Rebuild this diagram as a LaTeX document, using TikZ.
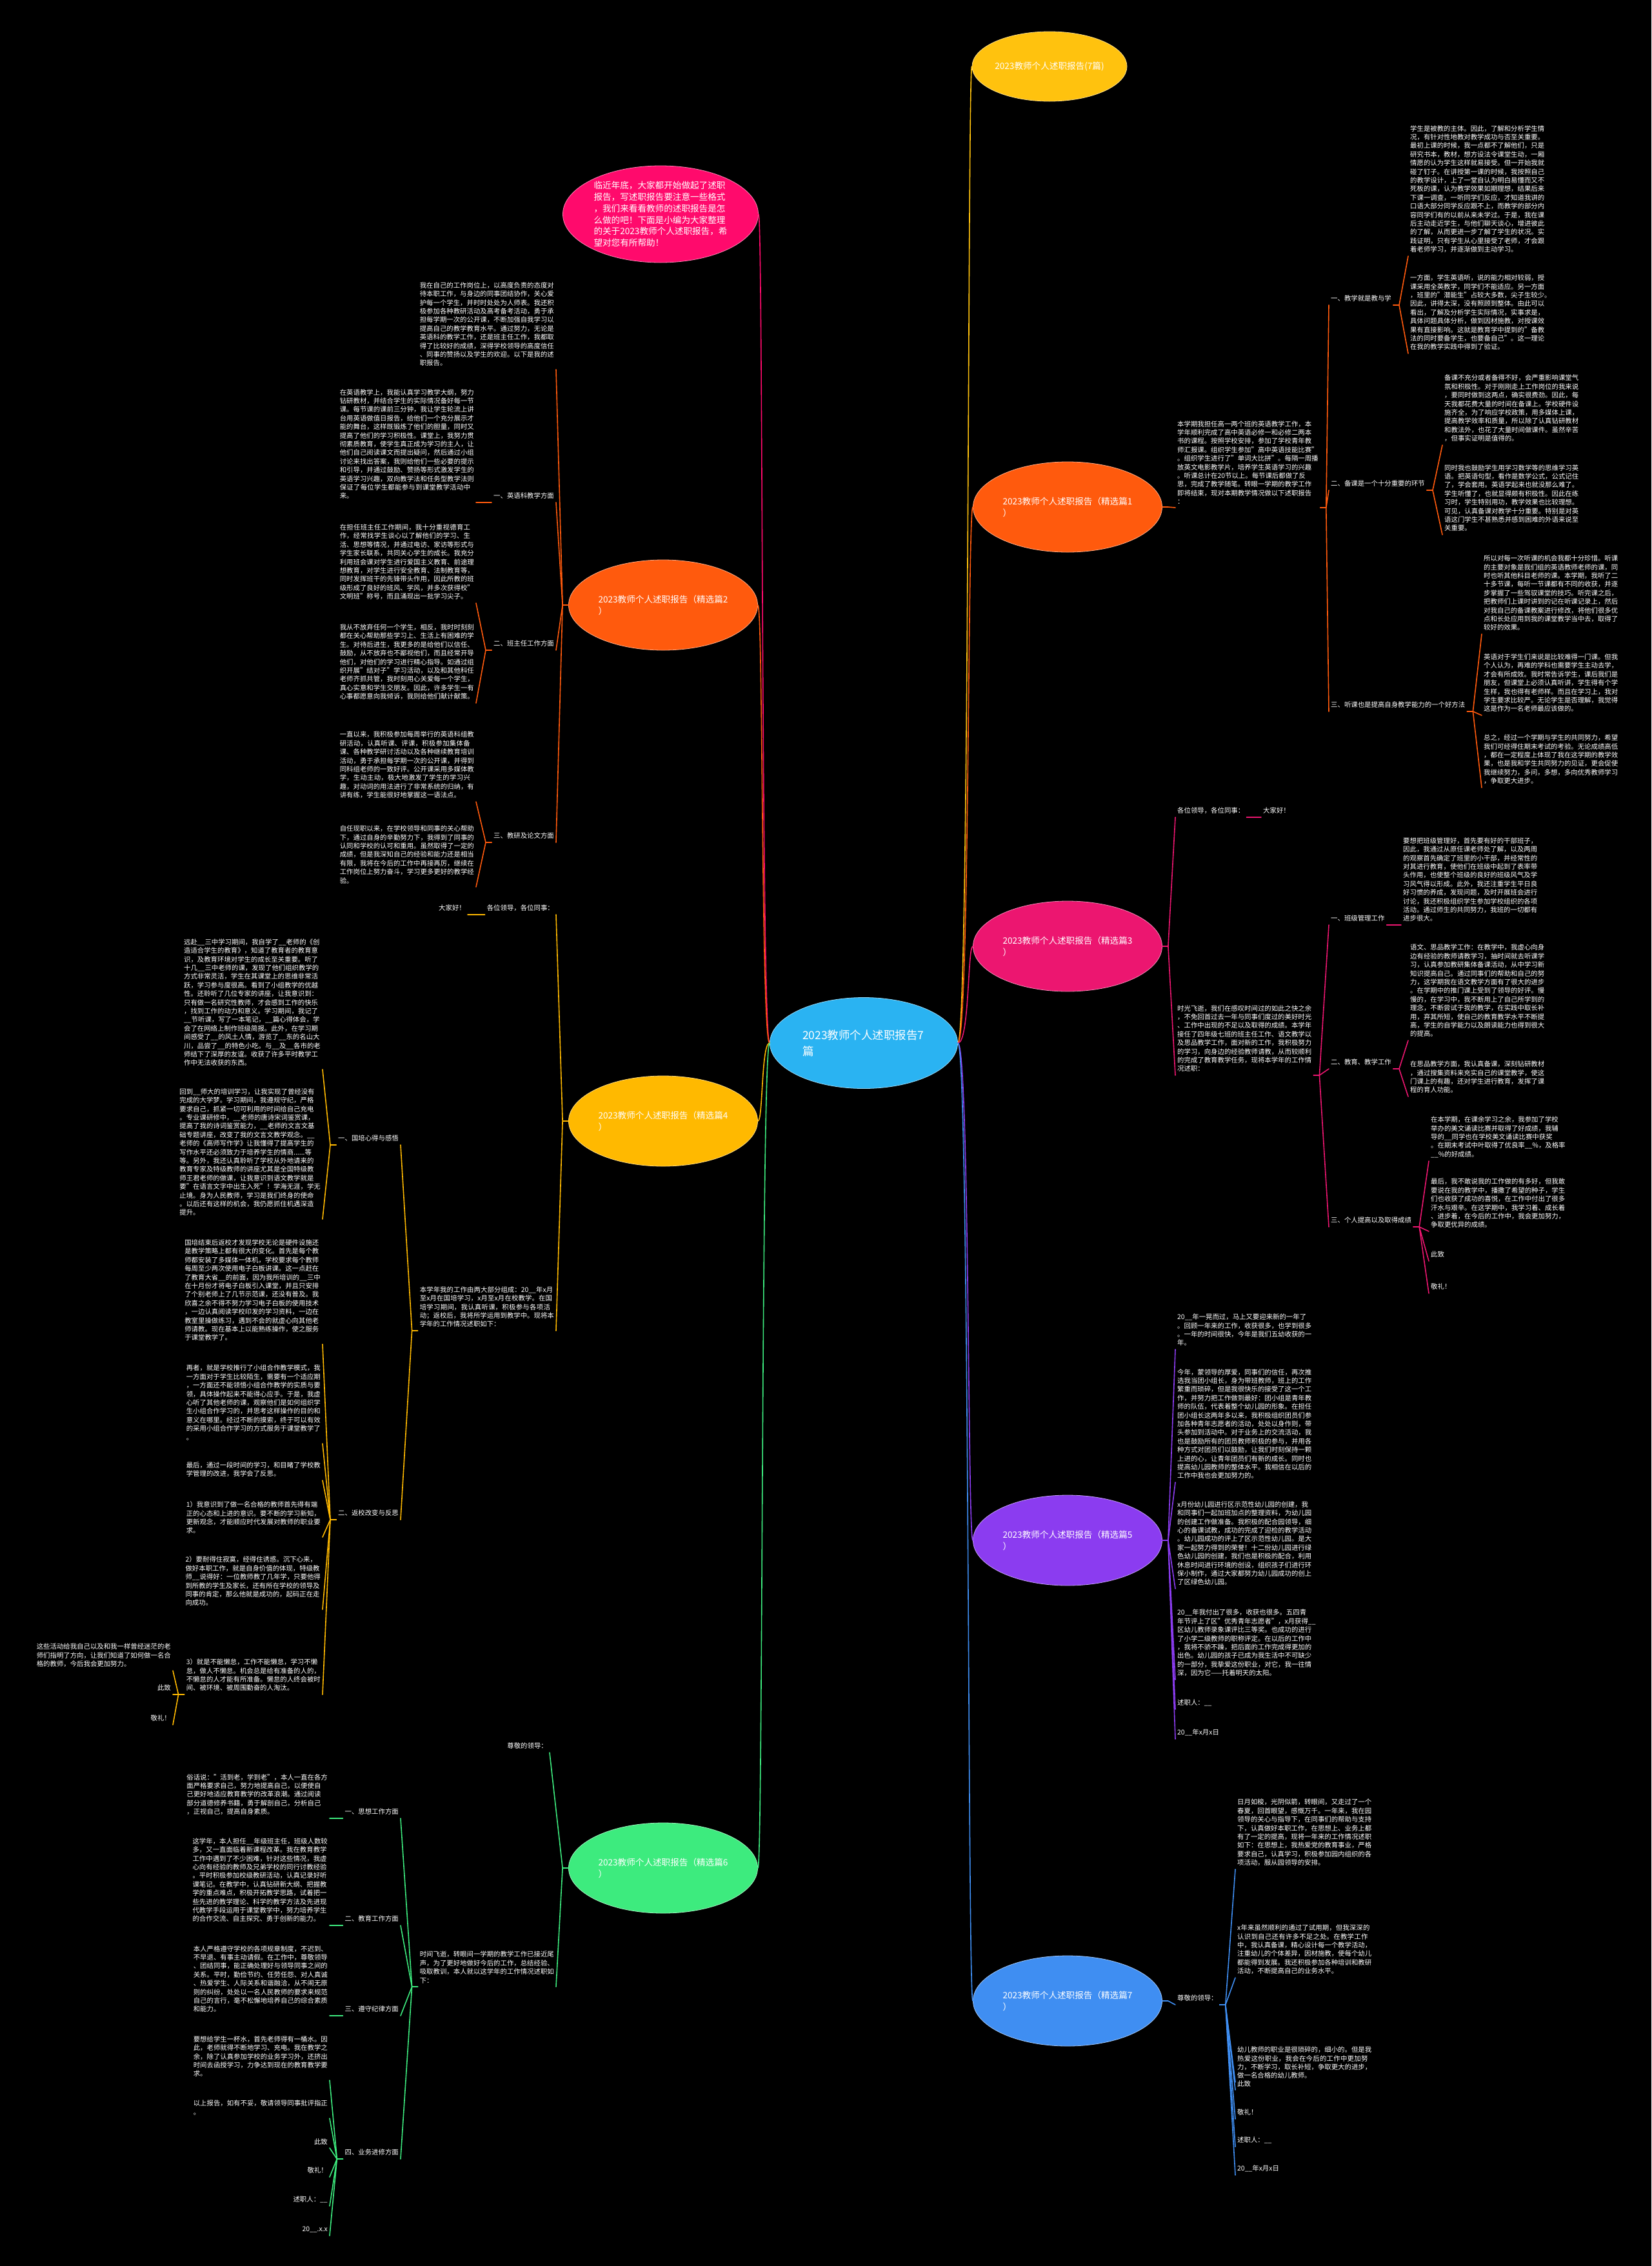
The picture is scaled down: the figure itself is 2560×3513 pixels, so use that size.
\documentclass[tikz,border=0pt]{standalone}
\usepackage{fontspec}
\setmainfont{Noto Sans CJK SC}
\XeTeXlinebreaklocale "zh"
\XeTeXlinebreakskip = 0pt plus 1pt
\usetikzlibrary{shapes.geometric}
\definecolor{cRoot}{HTML}{2AB3F2}
\definecolor{cY}{HTML}{FFC20E}
\definecolor{cO}{HTML}{FF5A0D}
\definecolor{cP}{HTML}{EC1670}
\definecolor{cV}{HTML}{8B3CF0}
\definecolor{cB}{HTML}{3F8EF2}
\definecolor{cPk}{HTML}{FF0A6C}
\definecolor{cYL}{HTML}{FFB900}
\definecolor{cG}{HTML}{3DEB7E}
\tikzset{
  txt/.style={text=white, font=\fontsize{10.4}{13.4}\selectfont, align=left, inner xsep=3pt, inner ysep=5pt},
  ptxt/.style={txt, text width=208pt},
  ln/.style={line width=1.6pt, line cap=round, line join=round},
  bnode/.style={ellipse, minimum width=293pt, minimum height=140pt, align=left,
    font=\fontsize{13.6}{17.8}\selectfont, text=white, inner sep=0pt, line width=0.8pt},
}
\newcommand\myRC[3]{\draw[ln,draw=#1] (#2) -- ++(9,0) -- (#3);}
\newcommand\myLC[3]{\draw[ln,draw=#1] (#2) -- ++(-9,0) -- (#3);}
\begin{document}
\begin{tikzpicture}[x=1pt,y=-1pt]
\fill[black] (0,0) rectangle (2560,3513);
\useasboundingbox (0,0) rectangle (2560,3513);

% ---------- root ----------
\node[ellipse, fill=cRoot, draw=white!50!cRoot, line width=0.8pt, minimum width=291pt, minimum height=141pt,
  text width=190pt, align=left, inner sep=0pt, text=white, font=\fontsize{17.5}{25}\selectfont] (root) at (1339,1617) {2023教师个人述职报告7\\篇};

% ---------- branch ellipses ----------
\node[ellipse, fill=cY, draw=white!50!cY, line width=0.8pt, minimum width=240pt, minimum height=108pt, inner sep=0pt,
  text=white, font=\fontsize{13.6}{17.8}\selectfont] (bT) at (1627,103) {2023教师个人述职报告(7篇)};
\node[bnode, fill=cO, draw=white!50!cO] (b1) at (1655,786) {2023教师个人述职报告（精选篇1\\）};
\node[bnode, fill=cP, draw=white!50!cP] (b3) at (1655,1467) {2023教师个人述职报告（精选篇3\\）};
\node[bnode, fill=cV, draw=white!50!cV] (b5) at (1655,2388) {2023教师个人述职报告（精选篇5\\）};
\node[bnode, fill=cB, draw=white!50!cB] (b7) at (1655,3102) {2023教师个人述职报告（精选篇7\\）};
\node[bnode, fill=cPk, draw=white!50!cPk, minimum width=303pt, minimum height=150pt] (bI) at (1024,332) {临近年底，大家都开始做起了述职\\报告，写述职报告要注意一些格式\\，我们来看看教师的述职报告是怎\\么做的吧！下面是小编为大家整理\\的关于2023教师个人述职报告，希\\望对您有所帮助！};
\node[bnode, fill=cO, draw=white!50!cO] (b2) at (1028,938) {2023教师个人述职报告（精选篇2\\）};
\node[bnode, fill=cYL, draw=white!50!cYL] (b4) at (1028,1738) {2023教师个人述职报告（精选篇4\\）};
\node[bnode, fill=cG, draw=white!50!cG] (b6) at (1028,2896) {2023教师个人述职报告（精选篇6\\）};

% root connectors
\draw[ln,draw=cY] (root.east) .. controls (1503,1617) and (1500,103) .. (bT.west);
\draw[ln,draw=cO] (root.east) .. controls (1503,1617) and (1500,786) .. (b1.west);
\draw[ln,draw=cP] (root.east) .. controls (1503,1617) and (1500,1467) .. (b3.west);
\draw[ln,draw=cV] (root.east) .. controls (1503,1617) and (1500,2388) .. (b5.west);
\draw[ln,draw=cB] (root.east) .. controls (1503,1617) and (1500,3102) .. (b7.west);
\draw[ln,draw=cPk] (root.west) .. controls (1180,1617) and (1183,332) .. (bI.east);
\draw[ln,draw=cO] (root.west) .. controls (1180,1617) and (1183,938) .. (b2.east);
\draw[ln,draw=cYL] (root.west) .. controls (1180,1617) and (1183,1738) .. (b4.east);
\draw[ln,draw=cG] (root.west) .. controls (1180,1617) and (1183,2896) .. (b6.east);

% ---------- branch 1 ----------
\node[txt,anchor=south west] (b1in) at (1822,787) {本学期我担任高一两个班的英语教学工作，本\\学年顺利完成了高中英语必修一和必修二两本\\书的课程。按照学校安排，参加了学校青年教\\师汇报课。组织学生参加"高中英语技能比赛"\\。组织学生进行了"单词大比拼"。每隔一周播\\放英文电影教学片，培养学生英语学习的兴趣\\。听课总计在20节以上。每节课后都做了反\\思，完成了教学随笔。转眼一学期的教学工作\\即将结束，现对本期教学情况做以下述职报告\\：};
\node[txt,anchor=south west] (b1L1) at (2060,473) {一、教学就是教与学};
\node[txt,anchor=south west] (b1L2) at (2060,760) {二、备课是一个十分重要的环节};
\node[txt,anchor=south west] (b1L3) at (2060,1103) {三、听课也是提高自身教学能力的一个好方法};
\node[txt,anchor=south west] (b1p1) at (2183,397) {学生是被教的主体。因此，了解和分析学生情\\况，有针对性地教对教学成功与否至关重要。\\最初上课的时候，我一点都不了解他们，只是\\研究书本，教材，想方设法令课堂生动，一厢\\情愿的认为学生这样就易接受。但一开始我就\\碰了钉子。在讲授第一课的时候，我按照自己\\的教学设计，上了一堂自认为明白易懂而又不\\死板的课，认为教学效果如期理想，结果后来\\下课一调查，一听同学们反应，才知道我讲的\\口语大部分同学反应跟不上，而教学的部分内\\容同学们有的以前从来未学过。于是，我在课\\后主动走近学生，与他们聊天谈心，增进彼此\\的了解，从而更进一步了解了学生的状况。实\\践证明，只有学生从心里接受了老师，才会跟\\着老师学习，并逐渐做到主动学习。};
\node[txt,anchor=south west] (b1p2) at (2183,548) {一方面，学生英语听，说的能力相对较弱，授\\课采用全英教学，同学们不能适应。另一方面\\，班里的"潜能生"占较大多数，尖子生较少。\\因此，讲得太深，没有照顾到整体。由此可以\\看出，了解及分析学生实际情况，实事求是，\\具体问题具体分析，做到因材施教，对授课效\\果有直接影响。这就是教育学中提到的"备教\\法的同时要备学生，也要备自己"。这一理论\\在我的教学实践中得到了验证。};
\node[txt,anchor=south west] (b1p3) at (2236,690) {备课不充分或者备得不好，会严重影响课堂气\\氛和积极性。对于刚刚走上工作岗位的我来说\\，要同时做到这两点，确实很费劲。因此，每\\天我都花费大量的时间在备课上。学校硬件设\\施齐全，为了响应学校政策，用多媒体上课，\\提高教学效率和质量，所以除了认真钻研教材\\和教法外，也花了大量时间做课件。虽然辛苦\\，但事实证明是值得的。};
\node[txt,anchor=south west] (b1p4) at (2236,829) {同时我也鼓励学生用学习数学等的思维学习英\\语。把英语句型，看作是数学公式，公式记住\\了，学会套用。英语学起来也就没那么难了。\\学生听懂了，也就显得颇有积极性。因此在练\\习时，学生特别用功，教学效果也比较理想。\\可见，认真备课对教学十分重要。特别是对英\\语这门学生不甚熟悉并感到困难的外语来说至\\关重要。};
\node[txt,anchor=south west] (b1p5) at (2297,983) {所以对每一次听课的机会我都十分珍惜。听课\\的主要对象是我们组的英语教师老师的课，同\\时也听其他科目老师的课。本学期，我听了二\\十多节课，每听一节课都有不同的收获，并逐\\步掌握了一些驾驭课堂的技巧。听完课之后，\\把教师们上课时讲到的记在听课记录上，然后\\对我自己的备课教案进行修改，将他们很多优\\点和长处应用到我的课堂教学当中去，取得了\\较好的效果。};
\node[txt,anchor=south west] (b1p6) at (2297,1109) {英语对于学生们来说是比较难得一门课。但我\\个人认为，再难的学科也需要学生主动去学，\\才会有所成效。我时常告诉学生，课后我们是\\朋友，但课堂上必须认真听讲，学生得有个学\\生样，我也得有老师样。而且在学习上，我对\\学生要求比较严。无论学生是否理解，我觉得\\这是作为一名老师最应该做的。};
\node[txt,anchor=south west] (b1p7) at (2297,1221) {总之，经过一个学期与学生的共同努力，希望\\我们可经得住期末考试的考验。无论成绩高低\\，都在一定程度上体现了我在这学期的教学效\\果，也是我和学生共同努力的见证，更会促使\\我继续努力，多问，多想，多向优秀教师学习\\，争取更大进步。};
\myRC{cO}{b1.east}{b1in.south west}
\myRC{cO}{b1in.south east}{b1L1.south west}
\myRC{cO}{b1in.south east}{b1L2.south west}
\myRC{cO}{b1in.south east}{b1L3.south west}
\myRC{cO}{b1L1.south east}{b1p1.south west}
\myRC{cO}{b1L1.south east}{b1p2.south west}
\myRC{cO}{b1L2.south east}{b1p3.south west}
\myRC{cO}{b1L2.south east}{b1p4.south west}
\myRC{cO}{b1L3.south east}{b1p5.south west}
\myRC{cO}{b1L3.south east}{b1p6.south west}
\myRC{cO}{b1L3.south east}{b1p7.south west}

% ---------- branch 3 ----------
\node[txt,anchor=south west] (b3g) at (1822,1267) {各位领导，各位同事：};
\node[txt,anchor=south west] (b3g2) at (1955,1267) {大家好！};
\node[txt,anchor=south west] (b3in) at (1822,1667) {时光飞逝，我们在感叹时间过的如此之快之余\\，不免回首过去一年与同事们度过的美好时光\\、工作中出现的不足以及取得的成绩。本学年\\接任了四年级七班的班主任工作、语文教学以\\及思品教学工作，面对新的工作，我积极努力\\的学习，向身边的经验教师请教，从而较顺利\\的完成了教育教学任务，现将本学年的工作情\\况述职：};
\node[txt,anchor=south west] (b3L1) at (2060,1434) {一、班级管理工作};
\node[txt,anchor=south west] (b3L2) at (2060,1657) {二、教育、教学工作};
\node[txt,anchor=south west] (b3L3) at (2060,1902) {三、个人提高以及取得成绩};
\node[txt,anchor=south west] (b3p1) at (2172,1434) {要想把班级管理好，首先要有好的干部班子，\\因此，我通过从原任课老师处了解，以及两周\\的观察首先确定了班里的小干部，并经常性的\\对其进行教育，使他们在班级中起到了表率带\\头作用，也使整个班级的良好的班级风气及学\\习风气得以形成。此外，我还注重学生平日良\\好习惯的养成，发现问题，及时开展班会进行\\讨论，我还积极组织学生参加学校组织的各项\\活动。通过师生的共同努力，我班的一切都有\\进步很大。};
\node[txt,anchor=south west] (b3p2) at (2183,1613) {语文、思品教学工作：在教学中，我虚心向身\\边有经验的教师请教学习，抽时间就去听课学\\习，认真参加教研集体备课活动，从中学习新\\知识提高自己。通过同事们的帮助和自己的努\\力，这学期我在语文教学方面有了很大的进步\\。在学期中的推门课上受到了领导的好评。慢\\慢的，在学习中，我不断用上了自己所学到的\\理念，不断尝试于我的教学，在实践中取长补\\用，弃其所短，使自己的教育教学水平不断提\\高，学生的自学能力以及朗读能力也得到很大\\的提高。};
\node[txt,anchor=south west] (b3p3) at (2183,1700) {在思品教学方面，我认真备课，深刻钻研教材\\，通过搜集资料来充实自己的课堂教学，使这\\门课上的有趣，还对学生进行教育，发挥了课\\程的育人功能。};
\node[txt,anchor=south west] (b3p4) at (2215,1800) {在本学期，在课余学习之余，我参加了学校\\举办的美文诵读比赛并取得了好成绩，我辅\\导的\_\_同学也在学校美文诵读比赛中获奖\\。在期末考试中叶取得了优良率\_\_\%，及格率\\\_\_\%的好成绩。};
\node[txt,anchor=south west] (b3p5) at (2215,1909) {最后，我不敢说我的工作做的有多好，但我敢\\要说在我的教学中，播撒了希望的种子，学生\\们也收获了成功的喜悦，在工作中付出了很多\\汗水与艰辛。在这学期中，我学习着、成长着\\、进步着，在今后的工作中，我会更加努力，\\争取更优异的成绩。};
\node[txt,anchor=south west] (b3p6) at (2215,1955) {此致};
\node[txt,anchor=south west] (b3p7) at (2215,2005) {敬礼！};
\myRC{cP}{b3.east}{b3g.south west}
\myRC{cP}{b3.east}{b3in.south west}
\draw[ln,draw=cP] (b3g.south east) -- (b3g2.south west);
\myRC{cP}{b3in.south east}{b3L1.south west}
\myRC{cP}{b3in.south east}{b3L2.south west}
\myRC{cP}{b3in.south east}{b3L3.south west}
\draw[ln,draw=cP] (b3L1.south east) -- (b3p1.south west);
\myRC{cP}{b3L2.south east}{b3p2.south west}
\myRC{cP}{b3L2.south east}{b3p3.south west}
\myRC{cP}{b3L3.south east}{b3p4.south west}
\myRC{cP}{b3L3.south east}{b3p5.south west}
\myRC{cP}{b3L3.south east}{b3p6.south west}
\myRC{cP}{b3L3.south east}{b3p7.south west}

% ---------- branch 5 ----------
\node[txt,anchor=south west] (b5p1) at (1822,2092) {20\_\_年一晃而过，马上又要迎来新的一年了\\。回顾一年来的工作，收获很多，也学到很多\\。一年的时间很快，今年是我们五幼收获的一\\年。};
\node[txt,anchor=south west] (b5p2) at (1822,2298) {今年，蒙领导的厚爱，同事们的信任，再次推\\选我当团小组长，身为带班教师，班上的工作\\繁重而琐碎，但是我很快乐的接受了这一个工\\作，并努力把工作做到最好：团小组是青年教\\师的队伍，代表着整个幼儿园的形象。在担任\\团小组长这两年多以来，我积极组织团员们参\\加各种青年志愿者的活动，处处以身作则，带\\头参加到活动中。对于业务上的交流活动，我\\也是鼓励所有的团员教师积极的参与，并用各\\种方式对团员们以鼓励，让我们时刻保持一颗\\上进的心，让青年团员们有新的成长。同时也\\提高幼儿园教师的整体水平。我相信在以后的\\工作中我也会更加努力的。};
\node[txt,anchor=south west] (b5p3) at (1822,2463) {x月份幼儿园进行区示范性幼儿园的创建，我\\和同事们一起加班加点的整理资料，为幼儿园\\的创建工作做准备。我积极的配合园领导，细\\心的备课试教，成功的完成了迎检的教学活动\\。幼儿园成功的评上了区示范性幼儿园。是大\\家一起努力得到的荣誉！十二份幼儿园进行绿\\色幼儿园的创建，我们也是积极的配合，利用\\休息时间进行环境的创设，组织孩子们进行环\\保小制作，通过大家都努力幼儿园成功的创上\\了区绿色幼儿园。};
\node[txt,anchor=south west] (b5p4) at (1822,2604) {20\_\_年我付出了很多，收获也很多。五四青\\年节评上了区"优秀青年志愿者"，x月获得\_\_\\区幼儿教师录象课评比三等奖。也成功的进行\\了小学二级教师的职称评定。在以后的工作中\\，我将不骄不躁，把后面的工作完成得更加的\\出色。幼儿园的孩子已成为我生活中不可缺少\\的一部分，我挚爱这份职业，对它，我一往情\\深，因为它——托着明天的太阳。};
\node[txt,anchor=south west] (b5p5) at (1822,2650) {述职人：\_\_};
\node[txt,anchor=south west] (b5p6) at (1822,2696) {20\_\_年x月x日};
\foreach \k in {1,...,6}{ \myRC{cV}{b5.east}{b5p\k.south west} }

% ---------- branch 7 ----------
\node[txt,anchor=south west] (b7g) at (1822,3108) {尊敬的领导：};
\node[ptxt,anchor=south west] (b7p1) at (1915,2898) {日月如梭，光阴似箭，转眼间，又走过了一个春夏，回首眼望，感慨万千。一年来，我在园领导的关心与指导下，在同事们的帮助与支持下，认真做好本职工作，在思想上、业务上都有了一定的提高，现将一年来的工作情况述职如下：在思想上，我热爱党的教育事业，严格要求自己，认真学习，积极参加园内组织的各项活动，服从园领导的安排。};
\node[ptxt,anchor=south west] (b7p2) at (1915,3066) {x年来虽然顺利的通过了试用期，但我深深的认识到自己还有许多不足之处。在教学工作中，我认真备课，精心设计每一个教学活动，注重幼儿的个体差异，因材施教，使每个幼儿都能得到发展。我还积极参加各种培训和教研活动，不断提高自己的业务水平。};
\node[ptxt,anchor=south west] (b7p3) at (1915,3228) {幼儿教师的职业是很琐碎的，细小的。但是我热爱这份职业，我会在今后的工作中更加努力，不断学习，取长补短，争取更大的进步，做一名合格的幼儿教师。};
\node[txt,anchor=south west] (b7p4) at (1915,3240) {此致};
\node[txt,anchor=south west] (b7p5) at (1915,3285) {敬礼！};
\node[txt,anchor=south west] (b7p6) at (1915,3328) {述职人：\_\_};
\node[txt,anchor=south west] (b7p7) at (1915,3372) {20\_\_年x月x日};
\myRC{cB}{b7.east}{b7g.south west}
\foreach \k in {1,...,7}{ \myRC{cB}{b7g.south east}{b7p\k.south west} }

% ---------- left branch 2 ----------
\node[txt,anchor=south east] (b2in) at (862,573) {我在自己的工作岗位上，以高度负责的态度对\\待本职工作，与身边的同事团结协作，关心爱\\护每一个学生，并时时处处为人师表。我还积\\极参加各种教研活动及高考备考活动，勇于承\\担每学期一次的公开课，不断加强自我学习以\\提高自己的教学教育水平。通过努力，无论是\\英语科的教学工作，还是班主任工作，我都取\\得了比较好的成绩，深得学校领导的高度信任\\、同事的赞扬以及学生的欢迎。以下是我的述\\职报告。};
\node[txt,anchor=south east] (b2L1) at (862,779) {一、英语科教学方面};
\node[txt,anchor=south east] (b2L2) at (862,1008) {二、班主任工作方面};
\node[txt,anchor=south east] (b2L3) at (862,1306) {三、教研及论文方面};
\node[ptxt,anchor=south east] (b2p1) at (738,779) {在英语教学上，我能认真学习教学大纲，努力钻研教材，并结合学生的实际情况备好每一节课。每节课的课前三分钟，我让学生轮流上讲台用英语做值日报告，给他们一个充分展示才能的舞台，这样既锻炼了他们的胆量，同时又提高了他们的学习积极性。课堂上，我努力贯彻素质教育，使学生真正成为学习的主人，让他们自己阅读课文而提出疑问，然后通过小组讨论来找出答案，我则给他们一些必要的提示和引导，并通过鼓励、赞扬等形式激发学生的英语学习兴趣，双向教学法和任务型教学法则保证了每位学生都能参与到课堂教学活动中来。};
\node[ptxt,anchor=south east] (b2p2) at (738,935) {在担任班主任工作期间，我十分重视德育工作，经常找学生谈心以了解他们的学习、生活、思想等情况，并通过电访、家访等形式与学生家长联系，共同关心学生的成长。我充分利用班会课对学生进行爱国主义教育、前途理想教育，对学生进行安全教育、法制教育等，同时发挥班干的先锋带头作用，因此所教的班级形成了良好的班风、学风，并多次获得校"文明班"称号，而且涌现出一批学习尖子。};
\node[ptxt,anchor=south east] (b2p3) at (738,1090) {我从不放弃任何一个学生，相反，我时时刻刻都在关心帮助那些学习上、生活上有困难的学生。对待后进生，我更多的是给他们以信任、鼓励，从不放弃也不鄙视他们，而且经常开导他们，对他们的学习进行精心指导。如通过组织开展"结对子"学习活动，以及和其他科任老师齐抓共管，我时刻用心关爱每一个学生，真心实意和学生交朋友。因此，许多学生一有心事都愿意向我倾诉，我则给他们献计献策。};
\node[ptxt,anchor=south east] (b2p4) at (738,1243) {一直以来，我积极参加每周举行的英语科组教研活动，认真听课、评课，积极参加集体备课、各种教学研讨活动以及各种继续教育培训活动，勇于承担每学期一次的公开课，并得到同科组老师的一致好评。公开课采用多媒体教学，生动主动，极大地激发了学生的学习兴趣，对动词的用法进行了非常系统的归纳，有讲有练，学生能很好地掌握这一语法点。};
\node[ptxt,anchor=south east] (b2p5) at (738,1375) {自任现职以来，在学校领导和同事的关心帮助下，通过自身的辛勤努力下，我得到了同事的认同和学校的认可和重用。虽然取得了一定的成绩，但是我深知自己的经验和能力还是相当有限，我将在今后的工作中再接再厉，继续在工作岗位上努力奋斗，学习更多更好的教学经验。};
\myLC{cO}{b2.west}{b2in.south east}
\myLC{cO}{b2.west}{b2L1.south east}
\myLC{cO}{b2.west}{b2L2.south east}
\myLC{cO}{b2.west}{b2L3.south east}
\myLC{cO}{b2L1.south west}{b2p1.south east}
\myLC{cO}{b2L2.south west}{b2p2.south east}
\myLC{cO}{b2L2.south west}{b2p3.south east}
\myLC{cO}{b2L3.south west}{b2p4.south east}
\myLC{cO}{b2L3.south west}{b2p5.south east}

% ---------- left branch 4 ----------
\node[txt,anchor=south east] (b4g) at (862,1418) {各位领导，各位同事：};
\node[txt,anchor=south east] (b4g2) at (725,1418) {大家好！};
\node[ptxt,anchor=south east] (b4in) at (862,2063) {本学年我的工作由两大部分组成：20\_\_年x月至x月在国培学习，x月至x月在校教学。在国培学习期间，我认真听课，积极参与各项活动；返校后，我将所学运用到教学中。现将本学年的工作情况述职如下：};
\node[txt,anchor=south east] (b4L1) at (621,1775) {一、国培心得与感悟};
\node[txt,anchor=south east] (b4L2) at (621,2356) {二、返校改变与反思};
\node[txt,anchor=south east] (b4p1) at (500,1658) {远赴\_\_三中学习期间，我自学了\_\_老师的《创\\造适合学生的教育》，知道了教育者的教育意\\识，及教育环境对学生的成长至关重要。听了\\十几\_\_三中老师的课，发现了他们组织教学的\\方式非常灵活，学生在其课堂上的思维非常活\\跃，学习参与度很高。看到了小组教学的优越\\性。还聆听了几位专家的讲座，让我意识到：\\只有做一名研究性教师，才会感到工作的快乐\\，找到工作的动力和意义。学习期间，我记了\\\_\_节听课，写了一本笔记，\_\_篇心得体会，学\\会了在网络上制作班级简报。此外，在学习期\\间感受了\_\_的风土人情，游览了\_\_东的名山大\\川，品尝了\_\_的特色小吃。与\_\_及\_\_各市的老\\师结下了深厚的友谊。收获了许多平时教学工\\作中无法收获的东西。};
\node[txt,anchor=south east] (b4p2) at (500,1890) {回到\_\_师大的培训学习，让我实现了曾经没有\\完成的大学梦。学习期间，我遵规守纪，严格\\要求自己，抓紧一切可利用的时间给自己充电\\。专业课研修中，\_\_老师的唐诗宋词鉴赏课，\\提高了我的诗词鉴赏能力，\_\_老师的文言文基\\础专题讲座，改变了我的文言文教学观念。\_\_\\老师的《高师写作学》让我懂得了提高学生的\\写作水平还必须致力于培养学生的情商......等\\等。另外，我还认真聆听了学校从外地请来的\\教育专家及特级教师的讲座尤其是全国特级教\\师王君老师的做课，让我意识到语文教学就是\\要"在语言文字中出生入死"！学海无涯，学无\\止境。身为人民教师，学习是我们终身的使命\\。以后还有这样的机会，我仍愿抓住机遇深造\\提升。};
\node[txt,anchor=south east] (b4p3) at (500,2084) {国培结束后返校才发现学校无论是硬件设施还\\是教学策略上都有很大的变化。首先是每个教\\师都安装了多媒体一体机，学校要求每个教师\\每周至少两次使用电子白板讲课。这一点赶在\\了教育大省\_\_的前面，因为我所培训的\_\_三中\\在十月份才将电子白板引入课堂，并且只安排\\了个别老师上了几节示范课，还没有普及。我\\欣喜之余不得不努力学习电子白板的使用技术\\，一边认真阅读学校印发的学习资料，一边在\\教室里操做练习，遇到不会的就虚心向其他老\\师请教。现在基本上以能熟练操作，使之服务\\于课堂教学了。};
\node[txt,anchor=south east] (b4p4) at (500,2238) {再者，就是学校推行了小组合作教学模式，我\\一方面对于学生比较陌生，需要有一个适应期\\，一方面还不能领悟小组合作教学的实质与要\\领，具体操作起来不能得心应手。于是，我虚\\心听了其他老师的课，观察他们是如何组织学\\生小组合作学习的，并思考这样操作的目的和\\意义在哪里。经过不断的摸索，终于可以有效\\的采用小组合作学习的方式服务于课堂教学了\\。};
\node[txt,anchor=south east] (b4p5) at (500,2295) {最后，通过一段时间的学习，和目睹了学校教\\学管理的改进，我学会了反思。};
\node[txt,anchor=south east] (b4p6) at (500,2383) {1）我意识到了做一名合格的教师首先得有端\\正的心态和上进的意识。要不断的学习新知，\\更新观念，才能顺应时代发展对教师的职业要\\求。};
\node[txt,anchor=south east] (b4p7) at (500,2495) {2）要耐得住寂寞，经得住诱惑。沉下心来，\\做好本职工作，就是自身价值的体现，特级教\\师\_\_说得好：一位教师教了几年学，只要他得\\到所教的学生及家长，还有所在学校的领导及\\同事的肯定，那么他就是成功的，起码正在走\\向成功。};
\node[txt,anchor=south east] (b4p8) at (500,2627) {3）就是不能懒怠，工作不能懒怠，学习不懒\\怠，做人不懒怠。机会总是给有准备的人的，\\不懒怠的人才能有所准备。懒怠的人终会被时\\间、被环境、被周围勤奋的人淘汰。};
\node[ptxt,anchor=south east] (b4q1) at (268,2590) {这些活动给我自己以及和我一样曾经迷茫的老师们指明了方向，让我们知道了如何做一名合格的教师，今后我会更加努力。};
\node[txt,anchor=south east] (b4q2) at (268,2627) {此致};
\node[txt,anchor=south east] (b4q3) at (268,2674) {敬礼！};
\myLC{cYL}{b4.west}{b4g.south east}
\myLC{cYL}{b4.west}{b4in.south east}
\draw[ln,draw=cYL] (b4g.south west) -- (b4g2.south east);
\myLC{cYL}{b4in.south west}{b4L1.south east}
\myLC{cYL}{b4in.south west}{b4L2.south east}
\myLC{cYL}{b4L1.south west}{b4p1.south east}
\myLC{cYL}{b4L1.south west}{b4p2.south east}
\foreach \k in {3,...,8}{ \myLC{cYL}{b4L2.south west}{b4p\k.south east} }
\foreach \k in {1,2,3}{ \myLC{cYL}{b4p8.south west}{b4q\k.south east} }

% ---------- left branch 6 ----------
\node[txt,anchor=south east] (b6g) at (852,2717) {尊敬的领导：};
\node[txt,anchor=south east] (b6in) at (862,3080) {时间飞逝，转眼间一学期的教学工作已接近尾\\声，为了更好地做好今后的工作，总结经验、\\吸取教训，本人就以这学年的工作情况述职如\\下：};
\node[txt,anchor=south east] (b6L1) at (621,2819) {一、思想工作方面};
\node[txt,anchor=south east] (b6L2) at (621,2985) {二、教育工作方面};
\node[txt,anchor=south east] (b6L3) at (621,3125) {三、遵守纪律方面};
\node[txt,anchor=south east] (b6L4) at (621,3347) {四、业务进修方面};
\node[txt,anchor=south east] (b6p1) at (511,2819) {俗话说："活到老，学到老"，本人一直在各方\\面严格要求自己，努力地提高自己，以便使自\\己更好地适应教育教学的改革浪潮。通过阅读\\部分道德修养书籍，勇于解剖自己，分析自己\\，正视自己，提高自身素质。};
\node[txt,anchor=south east] (b6p2) at (511,2985) {这学年，本人担任\_\_年级班主任，班级人数较\\多，又一直面临着新课程改革。我在教育教学\\工作中遇到了不少困难，针对这些情况，我虚\\心向有经验的教师及兄弟学校的同行讨教经验\\。平时积极参加校级教研活动，认真记录好听\\课笔记。在教学中，认真钻研新大纲、把握教\\学的重点难点，积极开拓教学思路，试着把一\\些先进的教学理论、科学的教学方法及先进现\\代教学手段运用于课堂教学中，努力培养学生\\的合作交流、自主探究、勇于创新的能力。};
\node[txt,anchor=south east] (b6p3) at (511,3125) {本人严格遵守学校的各项规章制度，不迟到、\\不早退、有事主动请假。在工作中，尊敬领导\\、团结同事，能正确处理好与领导同事之间的\\关系。平时，勤俭节约、任劳任怨、对人真诚\\、热爱学生、人际关系和谐融洽，从不闹无原\\则的纠纷，处处以一名人民教师的要求来规范\\自己的言行，毫不松懈地培养自己的综合素质\\和能力。};
\node[txt,anchor=south east] (b6p4) at (511,3225) {要想给学生一杯水，首先老师得有一桶水。因\\此，老师就得不断地学习、充电。我在教学之\\余，除了认真参加学校的业务学习外，还挤出\\时间去函授学习，力争达到现在的教育教学要\\求。};
\node[txt,anchor=south east] (b6p5) at (511,3284) {以上报告，如有不妥，敬请领导同事批评指正\\。};
\node[txt,anchor=south east] (b6p6) at (511,3330) {此致};
\node[txt,anchor=south east] (b6p7) at (511,3375) {敬礼！};
\node[txt,anchor=south east] (b6p8) at (511,3420) {述职人：\_\_};
\node[txt,anchor=south east] (b6p9) at (511,3466) {20\_\_.x.x};
\myLC{cG}{b6.west}{b6g.south east}
\myLC{cG}{b6.west}{b6in.south east}
\foreach \k in {1,...,4}{ \myLC{cG}{b6in.south west}{b6L\k.south east} }
\draw[ln,draw=cG] (b6L1.south west) -- (b6p1.south east);
\draw[ln,draw=cG] (b6L2.south west) -- (b6p2.south east);
\draw[ln,draw=cG] (b6L3.south west) -- (b6p3.south east);
\foreach \k in {4,...,9}{ \myLC{cG}{b6L4.south west}{b6p\k.south east} }
\end{tikzpicture}
\end{document}
